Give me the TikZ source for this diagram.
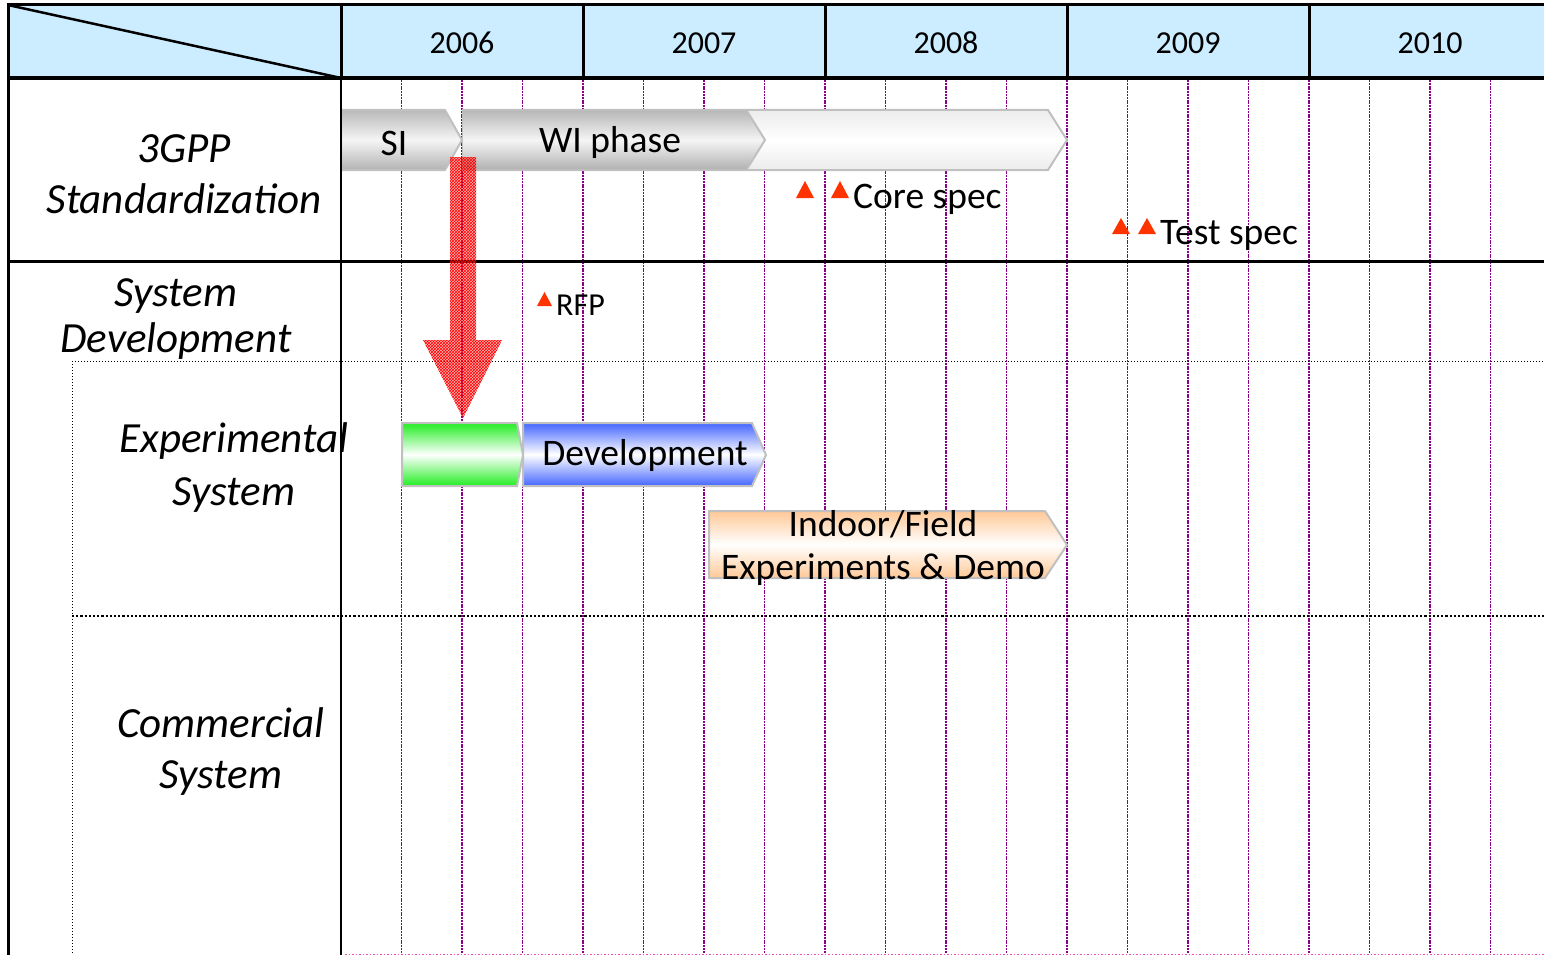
\documentclass[tikz,border=0pt]{standalone}
\usepackage{fontspec}
\setmainfont{Carlito}
\usetikzlibrary{patterns}
\definecolor{hdr}{HTML}{CCECFF}
\definecolor{gridc}{HTML}{8B008B}
\definecolor{tri}{HTML}{FF3300}
\definecolor{bord}{HTML}{C0C0C0}
\definecolor{barblue}{HTML}{4466FF}
\definecolor{bargreen}{HTML}{22EE22}
\definecolor{barorange}{HTML}{FFC896}
\tikzset{
  thickline/.style={line width=3pt, black},
  gridline/.style={gridc, line width=1.4pt, dash pattern=on 2pt off 0.8pt},
  bar/.style={draw=bord, line width=2pt, line join=miter},
  bartext/.style={font=\fontsize{37.5}{43}\selectfont, inner sep=0pt, align=center},
  yeartext/.style={font=\fontsize{32}{38}\selectfont, inner sep=0pt},
  rowlabel/.style={font=\fontsize{43}{51}\selectfont\itshape, inner sep=0pt, align=center},
  marktext/.style={font=\fontsize{37.5}{43}\selectfont, inner sep=0pt, anchor=west},
  marker/.style={fill=tri},
}
\newcommand{\redarrowpath}{(450,157) -- (476,157) -- (476,340) -- (502,340) -- (463,418) -- (423,340) -- (450,340) -- cycle}
\begin{document}
\begin{tikzpicture}[x=1pt,y=-1pt]
\useasboundingbox (0,0) rectangle (1544,955);
\fill[white] (0,0) rectangle (1544,955);
% header
\fill[hdr] (8,5) rectangle (1544,78);
% grid lines
\foreach \k in {1,...,19} {
  \draw[gridline] ({341+60.5*\k},80) -- ({341+60.5*\k},953);
}
\draw[magenta!70, line width=1pt, dash pattern=on 1.5pt off 2pt] (345,954) -- (1544,954);
% header lines
\draw[thickline] (8,5) -- (1544,5);
\draw[line width=4pt] (8,78) -- (1544,78);
\draw[line width=2.5pt] (8,5) -- (341,78);
\foreach \xx in {341,583,825,1067,1309} {
  \draw[thickline] (\xx,5) -- (\xx,78);
}
\draw[thickline] (8,3.5) -- (8,955);
\draw[line width=2.5pt] (341,78) -- (341,955);
\draw[thickline] (8,261) -- (1544,261);
% dotted frames
\draw[line width=1pt, dash pattern=on 1.2pt off 1.8pt] (72,361) -- (1544,361);
\draw[line width=1pt, dash pattern=on 1.2pt off 1.8pt] (72,361) -- (72,955);
\draw[line width=2.2pt, dash pattern=on 2.2pt off 2pt] (72,616) -- (1544,616);
% year labels
\node[yeartext] (y2006) at (462,43) {2006};
\node[yeartext] (y2007) at (704,43) {2007};
\node[yeartext] (y2008) at (946,43) {2008};
\node[yeartext] (y2009) at (1188,43) {2009};
\node[yeartext] (y2010) at (1430,43) {2010};
% row labels
\node[rowlabel] (r3gpp) at (184,174) {3GPP\\Standardization};
\node[rowlabel, font=\fontsize{43}{46}\selectfont\itshape] (rsys) at (176,319) {System\\Development};
\node[rowlabel, font=\fontsize{43}{53}\selectfont\itshape] (rexp) at (234,468) {Experimental\\System};
\node[rowlabel] (rcom) at (221,752) {Commercial\\System};
% 3GPP bars
\path[bar, top color=gray!15, bottom color=gray!15, middle color=white] (463,110) -- (1048,110) -- (1067,140) -- (1048,170) -- (463,170) -- cycle;
\path[bar, draw=none, top color=gray!55, bottom color=gray!60, middle color=gray!8] (463,111) -- (747,111) -- (765,140) -- (747,169) -- (463,169) -- cycle;
\draw[bord, line width=2pt] (747,111) -- (765,140) -- (747,169);
\path[bar, top color=gray!55, bottom color=gray!60, middle color=gray!8] (341,110) -- (445,110) -- (462,140) -- (445,170) -- (341,170) -- cycle;
\draw[line width=2.5pt] (341,100) -- (341,180);
\node[bartext] (si) at (394,143) {SI};
\node[bartext] (wi) at (610,143) {WI phase};
% experimental bars
\path[bar, top color=bargreen, bottom color=bargreen, middle color=white] (402,423) -- (517,423) -- (523,455) -- (517,486) -- (402,486) -- cycle;
\path[bar, top color=barblue, bottom color=barblue, middle color=white] (523,423) -- (752,423) -- (766,455) -- (752,486) -- (523,486) -- cycle;
\node[bartext] (dev) at (645,455) {Development};
\path[bar, top color=barorange, bottom color=barorange, middle color=white] (709,511) -- (1045,511) -- (1067,545) -- (1045,578) -- (709,578) -- cycle;
\node[bartext] (exp) at (883,548) {Indoor/Field\\Experiments \& Demo};
% red arrow
\fill[red, fill opacity=0.3] \redarrowpath;
\path[pattern=crosshatch, pattern color=red] \redarrowpath;
% markers
\fill[marker] (796,198) -- (814,198) -- (805,181) -- cycle;
\fill[marker] (831,198) -- (849,198) -- (840,181) -- cycle;
\node[marktext] (core) at (853,199) {Core spec};
\fill[marker] (1112,234) -- (1130,234) -- (1121,218) -- cycle;
\fill[marker] (1138,234) -- (1156,234) -- (1147,218) -- cycle;
\node[marktext] (test) at (1160,235) {Test spec};
\fill[marker] (537,306) -- (552,306) -- (544.5,292) -- cycle;
\node[marktext, font=\fontsize{32}{38}\selectfont] (rfp) at (556,305) {RFP};
\end{tikzpicture}
\end{document}
